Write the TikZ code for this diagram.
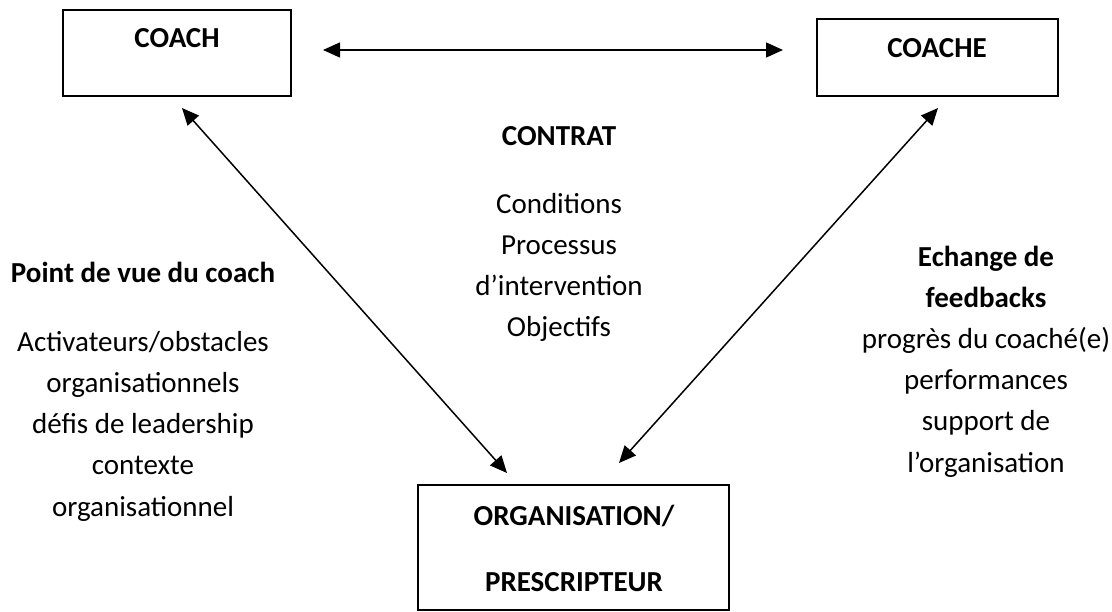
\documentclass[tikz,border=0pt]{standalone}
\usepackage{fontspec}
\setmainfont{Carlito}
\usetikzlibrary{arrows.meta}
\begin{document}
\begin{tikzpicture}[x=1pt,y=-1pt,
  boxshape/.style={draw=black,line width=2pt,rectangle,inner sep=0pt},
  txt/.style={inner sep=0pt,anchor=base,font=\fontsize{29}{41}\selectfont},
  btxt/.style={txt,font=\fontsize{29}{41}\selectfont\bfseries},
  link/.style={line width=1.5pt,{Triangle[length=17pt,width=15pt]}-{Triangle[length=17pt,width=15pt]}}]
\useasboundingbox (0,0) rectangle (1112,612);
% boxes
\node[boxshape,minimum width=228pt,minimum height=86pt] (coach) at (177,53) {};
\node[boxshape,minimum width=241pt,minimum height=77pt] (coache) at (937.5,57.5) {};
\node[boxshape,minimum width=311pt,minimum height=125pt] (org) at (573.5,547.5) {};
\node[btxt] (coachT) at (177,48) {COACH};
\node[btxt] (coacheT) at (937,58) {COACHE};
\node[btxt] (orgT1) at (574,525) {ORGANISATION/};
\node[btxt] (orgT2) at (574,591) {PRESCRIPTEUR};
% arrow ends
\coordinate (hL) at (323,50);
\coordinate (hR) at (783,50);
\coordinate (lT) at (182,108);
\coordinate (lB) at (507,473);
\coordinate (rT) at (938,108);
\coordinate (rB) at (619,463);
\draw[link] (hL) -- (hR);
\draw[link] (lT) -- (lB);
\draw[link] (rT) -- (rB);
% centre text
\node[btxt] (contrat) at (559,146) {CONTRAT};
\foreach \t [count=\i] in {Conditions,Processus,d’intervention,Objectifs}
  \node[txt] (c\i) at (559,{214+41*(\i-1)}) {\t};
% left text
\node[btxt] (pdv) at (143,283) {Point de vue du coach};
\foreach \t [count=\i] in {Activateurs/obstacles,organisationnels,défis de leadership,contexte,organisationnel}
  \node[txt] (l\i) at (143,{352+41*(\i-1)}) {\t};
% right text
\node[btxt] (ech1) at (986,267) {Echange de};
\node[btxt] (ech2) at (986,308) {feedbacks};
\foreach \t [count=\i] in {progrès du coaché(e),performances,support de,l’organisation}
  \node[txt] (r\i) at (986,{349+41*(\i-1)}) {\t};
\end{tikzpicture}
\end{document}
